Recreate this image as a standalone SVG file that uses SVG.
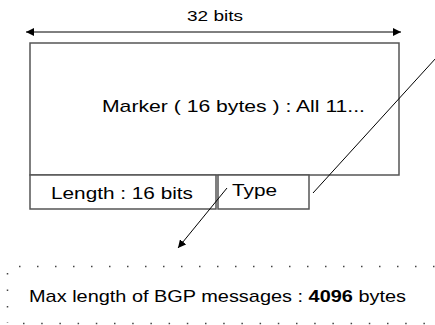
<svg xmlns="http://www.w3.org/2000/svg" width="435" height="325" viewBox="0 0 435 325">
  <style>
    .box { fill: #ffffff; stroke: #555555; stroke-width: 1.5; }
    .txt { font-family: "Liberation Sans", Arial, sans-serif; fill: #000000; }
    .line { stroke: #000000; stroke-width: 1; fill: none; }
    .dots { stroke: #444444; stroke-width: 1.5; fill: none; }
  </style>
  <defs>
    <marker id="head" viewBox="0 0 10 10" refX="10" refY="5" markerWidth="8" markerHeight="8" markerUnits="userSpaceOnUse" orient="auto-start-reverse">
      <path d="M0,0 L10,5 L0,10 z" fill="#000000"/>
    </marker>
  </defs>

  <rect width="435" height="325" fill="#ffffff"/>

  <!-- width dimension -->
  <g id="width-dim">
    <line class="line" x1="26" y1="32" x2="401" y2="32" marker-start="url(#head)" marker-end="url(#head)"/>
    <text class="txt" x="187" y="21" font-size="15.5" textLength="56" lengthAdjust="spacingAndGlyphs">32 bits</text>
  </g>

  <!-- header fields -->
  <g id="marker">
    <rect class="box" x="30" y="43" width="369" height="132"/>
    <text class="txt" x="102" y="112" font-size="17" textLength="263" lengthAdjust="spacingAndGlyphs">Marker ( 16 bytes ) : All 11...</text>
  </g>
  <g id="length">
    <rect class="box" x="30" y="175" width="186" height="34"/>
    <text class="txt" x="51" y="198.5" font-size="17" textLength="142" lengthAdjust="spacingAndGlyphs">Length : 16 bits</text>
  </g>
  <g id="type">
    <rect class="box" x="218" y="175" width="91" height="34"/>
    <text class="txt" x="232" y="196" font-size="17" textLength="45" lengthAdjust="spacingAndGlyphs">Type</text>
  </g>

  <!-- connectors -->
  <g id="connectors">
    <line class="line" x1="436" y1="58" x2="313" y2="193"/>
    <line class="line" x1="227" y1="188" x2="178" y2="248" marker-end="url(#head)"/>
  </g>

  <!-- note -->
  <g id="note">
    <line class="dots" x1="19" y1="266.5" x2="435" y2="266.5" stroke-dasharray="1.5 16.5"/>
    <line class="dots" x1="7.5" y1="273" x2="7.5" y2="323" stroke-dasharray="1.5 15"/>
    <line class="dots" x1="23" y1="323.5" x2="435" y2="323.5" stroke-dasharray="1.5 16.7"/>
    <text class="txt" x="29" y="302" font-size="17" textLength="377" lengthAdjust="spacingAndGlyphs">Max length of BGP messages : <tspan font-weight="bold">4096</tspan> bytes</text>
  </g>
</svg>
